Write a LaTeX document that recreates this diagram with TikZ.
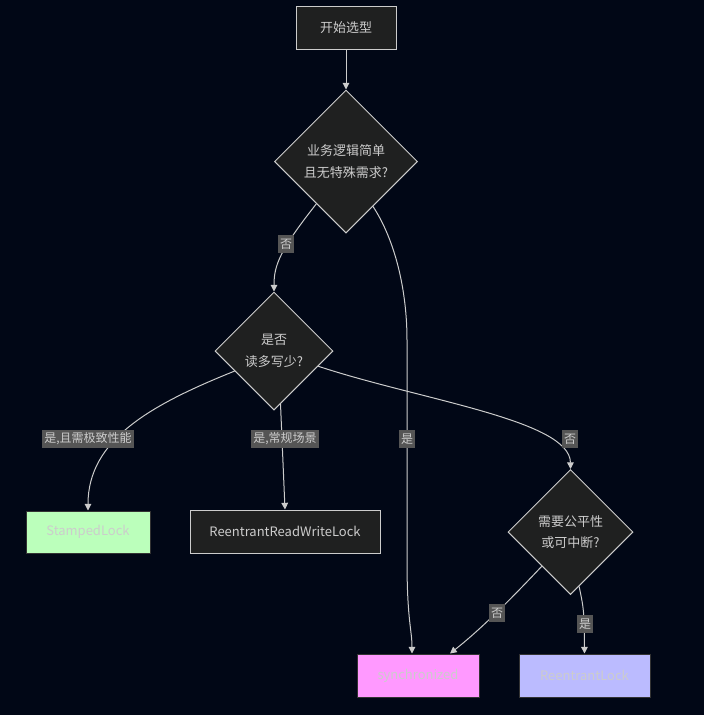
\documentclass[tikz,border=0pt]{standalone}
\usepackage{fontspec}
\setmainfont{Noto Sans CJK SC}
\usetikzlibrary{shapes.geometric,arrows.meta,calc}
\definecolor{bg}{RGB}{1,7,22}
\definecolor{nodefill}{RGB}{31,32,32}
\definecolor{linec}{RGB}{204,204,204}
\definecolor{lblfill}{RGB}{85,85,85}
\definecolor{greenf}{RGB}{187,255,187}
\definecolor{pinkf}{RGB}{255,153,255}
\definecolor{bluef}{RGB}{187,187,255}
\definecolor{darkb}{RGB}{51,51,51}
\begin{document}
\begin{tikzpicture}[x=0.75pt,y=-0.75pt,
  box/.style={rectangle,draw=linec,fill=nodefill,line width=0.75pt,text=linec,font=\fontsize{9.75}{12}\selectfont,inner sep=0pt},
  dec/.style={diamond,draw=linec,fill=nodefill,line width=0.75pt,text=linec,font=\fontsize{9.75}{16}\selectfont,inner sep=0pt,aspect=1,align=center},
  edge/.style={draw=linec,line width=0.75pt,-{Triangle[length=5pt,width=5pt]}},
  lbl/.style={fill=lblfill,text=linec,font=\fontsize{9}{11}\selectfont,inner sep=1.5pt,minimum height=14pt}]
\fill[bg] (0,0) rectangle (704,715);
\useasboundingbox (0,0) rectangle (704,715);
% nodes
\node[box,minimum width=75pt,minimum height=32.25pt] (s) at (346,27.5) {开始选型};
\node[dec,minimum width=107.25pt,minimum height=107.25pt] (d1) at (346,161.5) {业务逻辑简单\\且无特殊需求?};
\node[dec,minimum width=88.5pt,minimum height=88.5pt] (d2) at (274,351) {是否\\读多写少?};
\node[dec,minimum width=93.75pt,minimum height=93.75pt] (d3) at (570.5,532) {需要公平性\\或可中断?};
\node[box,fill=greenf,draw=darkb,minimum width=93pt,minimum height=31.5pt] (sl) at (88,532) {StampedLock};
\node[box,minimum width=142.5pt,minimum height=32.25pt] (rr) at (285,531.5) {ReentrantReadWriteLock};
\node[box,fill=pinkf,draw=darkb,minimum width=91.5pt,minimum height=32.25pt] (sy) at (418,675.5) {synchronized};
\node[box,fill=bluef,draw=darkb,minimum width=98.25pt,minimum height=32.25pt] (rl) at (584.5,675.5) {ReentrantLock};
% edges
\draw[edge] (s) -- (d1);
\draw[edge] (d1.235) .. controls (280,250) and (274,265) .. (d2.north);
\draw[edge] (d1.301) .. controls (395,240) and (407,290) .. (407,340) -- (407,560) .. controls (407,620) and (412,630) .. ($(sy.north)+(-6,0)$);
\draw[edge] (d2.207) .. controls (150,405) and (88,440) .. (sl.north);
\draw[edge] (d2.277) -- (rr.north);
\draw[edge] (d2.341) .. controls (420,400) and (570,420) .. (d3.north);
\draw[edge] (d3.230) .. controls (510,600) and (480,630) .. ($(sy.north)+(32,0)$);
\draw[edge] (d3.279) .. controls (584,610) .. (rl.north);
% labels
\node[lbl] (l1) at (286,244) {否};
\node[lbl] (l2) at (407,439) {是};
\node[lbl] (l3) at (88,439) {是,且需极致性能};
\node[lbl] (l4) at (285,439) {是,常规场景};
\node[lbl] (l5) at (570,439) {否};
\node[lbl] (l6) at (497,613) {否};
\node[lbl] (l7) at (585,624) {是};
\end{tikzpicture}
\end{document}
